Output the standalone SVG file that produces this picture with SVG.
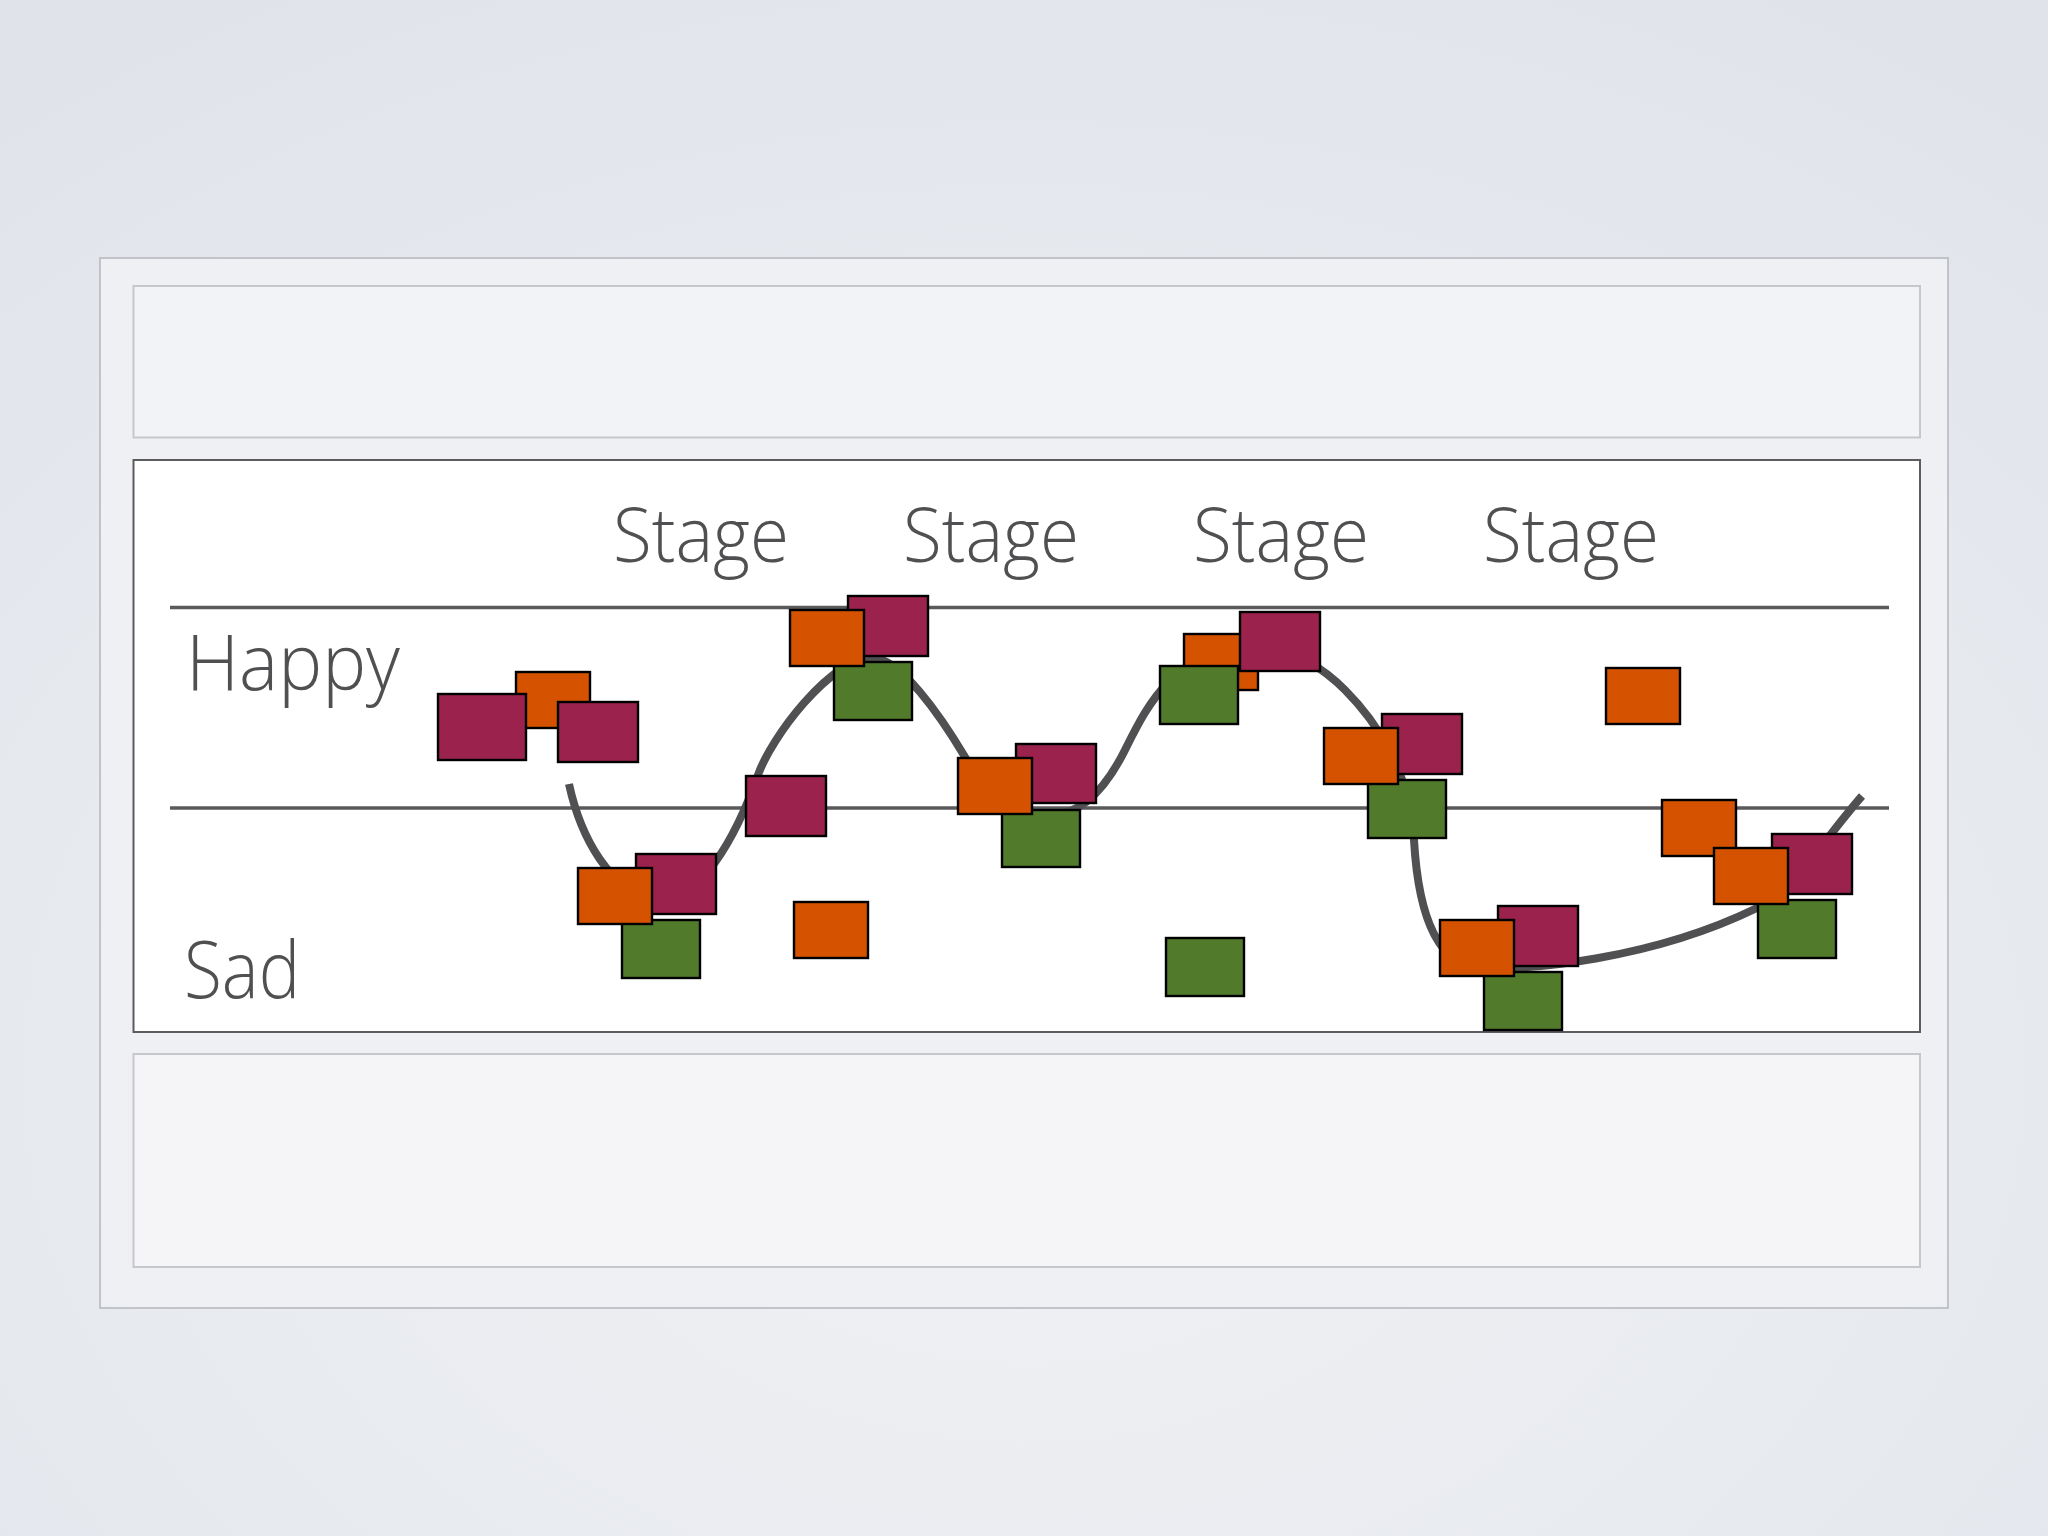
<svg xmlns="http://www.w3.org/2000/svg" width="2048" height="1536" viewBox="0 0 2048 1536">
<defs>
<radialGradient id="bg" cx="50%" cy="70%" r="80%">
<stop offset="0" stop-color="#f1f2f5"/>
<stop offset="1" stop-color="#e0e4ea"/>
</radialGradient>
</defs>
<style>
.o{fill:#d55200;stroke:#000;stroke-width:2.4}
.m{fill:#9a224d;stroke:#000;stroke-width:2.4}
.g{fill:#517a2b;stroke:#000;stroke-width:2.4}
.t{font-family:"Open Sans","Lato","Liberation Sans",sans-serif;font-weight:300;fill:#505052}
.ln{stroke:#5a5a5c;stroke-width:3.5;fill:none}
.cv{fill:none;stroke:#505052}
</style>
<rect x="0" y="0" width="2048" height="1536" fill="url(#bg)"/>
<rect x="100" y="258" width="1848" height="1050" fill="#eef0f3" stroke="#c2c3c8" stroke-width="2"/>
<rect x="133.5" y="286" width="1786.5" height="151.5" fill="#f2f3f6" stroke="#c6c7cb" stroke-width="2"/>
<rect x="133.5" y="1054" width="1786.5" height="213" fill="#f5f5f8" stroke="#c6c7cb" stroke-width="2"/>
<rect x="133.5" y="460" width="1786.5" height="572" fill="#ffffff" stroke="#5c5c5e" stroke-width="2"/>
<g id="connectors">
<line class="ln" x1="170" y1="607.5" x2="1889" y2="607.5"/>
<line class="ln" x1="170" y1="808" x2="1889" y2="808"/>
<path id="curve" class="cv" stroke-width="8" d="M569,784 C580,835 610,895 660,900 C700,900 735,840 758,775 C771,738 830,658 873,658 C900,658 940,715 965,757 C985,790 1010,815 1050,815 C1080,815 1105,790 1125,750 C1145,710 1175,645 1255,648 C1290,648 1320,665 1345,690 C1375,720 1410,770 1414,840 C1418,910 1435,965 1480,968 C1530,970 1650,960 1757,908 C1797,889 1815,850 1862,796"/>
</g>
<g id="cluster-a">
<rect id="nB" class="o" x="516" y="672" width="74" height="56"/>
<rect id="nA" class="m" x="438" y="694" width="88" height="66"/>
<rect id="nC" class="m" x="558" y="702" width="80" height="60"/>
</g>
<g id="cluster-b">
<rect id="nF" class="g" x="622" y="920" width="78" height="58"/>
<rect id="nD" class="m" x="636" y="854" width="80" height="60"/>
<rect id="nE" class="o" x="578" y="868" width="74" height="56"/>
</g>
<g id="nG"><rect class="m" x="746" y="776" width="80" height="60"/></g>
<g id="nH"><rect class="o" x="794" y="902" width="74" height="56"/></g>
<g id="cluster-c">
<rect id="nK" class="g" x="834" y="662" width="78" height="58"/>
<rect id="nJ" class="m" x="848" y="596" width="80" height="60"/>
<rect id="nI" class="o" x="790" y="610" width="74" height="56"/>
</g>
<g id="cluster-d">
<rect id="nQ" class="g" x="1002" y="810" width="78" height="57"/>
<rect id="nP" class="m" x="1016" y="744" width="80" height="59"/>
<rect id="nO" class="o" x="958" y="758" width="74" height="56"/>
</g>
<g id="cluster-e">
<rect id="nL" class="o" x="1184" y="634" width="74" height="56"/>
<rect id="nN" class="g" x="1160" y="666" width="78" height="58"/>
<rect id="nM" class="m" x="1240" y="612" width="80" height="59"/>
</g>
<g id="nR"><rect class="g" x="1166" y="938" width="78" height="58"/></g>
<g id="cluster-f">
<rect id="nU" class="g" x="1368" y="780" width="78" height="58"/>
<rect id="nS" class="m" x="1382" y="714" width="80" height="60"/>
<rect id="nT" class="o" x="1324" y="728" width="74" height="56"/>
</g>
<g id="nV"><rect class="o" x="1606" y="668" width="74" height="56"/></g>
<g id="cluster-g">
<rect id="nY" class="g" x="1484" y="972" width="78" height="58"/>
<rect id="nW" class="m" x="1498" y="906" width="80" height="60"/>
<rect id="nX" class="o" x="1440" y="920" width="74" height="56"/>
</g>
<g id="cluster-h">
<rect id="nZ4" class="g" x="1758" y="900" width="78" height="58"/>
<rect id="nZ2" class="m" x="1772" y="834" width="80" height="60"/>
<rect id="nZ1" class="o" x="1662" y="800" width="74" height="56"/>
<rect id="nZ3" class="o" x="1714" y="848" width="74" height="56"/>
</g>
<g id="labels">
<text class="t" x="186" y="690" font-size="78" textLength="214" lengthAdjust="spacingAndGlyphs">Happy</text>
<text class="t" x="184" y="998" font-size="80" textLength="116" lengthAdjust="spacingAndGlyphs">Sad</text>
<text class="t" x="613" y="562" font-size="76" textLength="176" lengthAdjust="spacingAndGlyphs">Stage</text>
<text class="t" x="903" y="562" font-size="76" textLength="176" lengthAdjust="spacingAndGlyphs">Stage</text>
<text class="t" x="1193" y="562" font-size="76" textLength="176" lengthAdjust="spacingAndGlyphs">Stage</text>
<text class="t" x="1483" y="562" font-size="76" textLength="176" lengthAdjust="spacingAndGlyphs">Stage</text>
</g>
</svg>
